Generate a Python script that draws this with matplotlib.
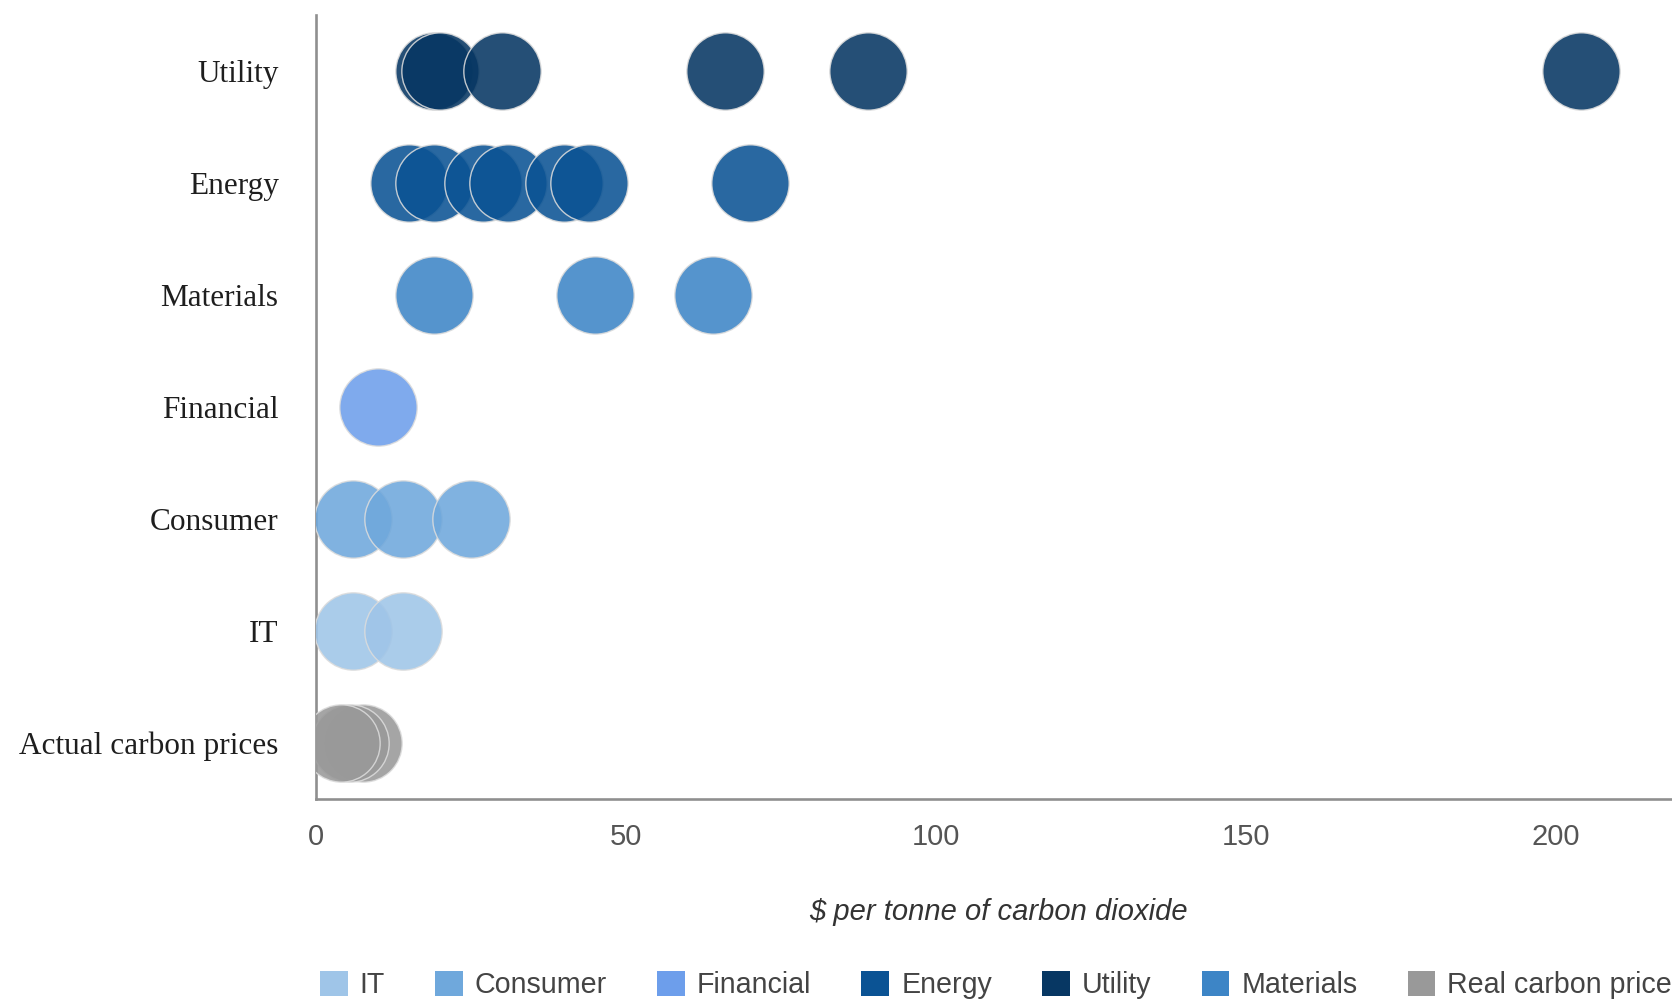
import matplotlib
matplotlib.use("Agg")
import matplotlib.pyplot as plt
from matplotlib.patches import Patch

# Sector rows, bottom to top
categories = ["Actual carbon prices", "IT", "Consumer", "Financial",
              "Materials", "Energy", "Utility"]

# Internal carbon prices, $ per tonne of CO2
it_prices = [6, 14]
consumer_prices = [6, 14, 25]
financial_prices = [10]
energy_prices = [15, 19, 27, 31, 40, 44, 70]
utility_prices = [19, 20, 30, 66, 89, 204]
materials_prices = [19, 45, 64]
real_carbon_prices = [7.5, 5.5, 4]

legend_names = ["IT", "Consumer", "Financial", "Energy", "Utility",
                "Materials", "Real carbon price"]
series_rows = ["IT", "Consumer", "Financial", "Energy", "Utility",
               "Materials", "Actual carbon prices"]
series_values = [it_prices, consumer_prices, financial_prices, energy_prices,
                 utility_prices, materials_prices, real_carbon_prices]
series_colors = ["#9fc5e8", "#6fa8dc", "#6d9eeb", "#0b5394", "#073763",
                 "#3d85c6", "#999999"]

W, H = 1672, 999
fig = plt.figure(figsize=(W / 100, H / 100), dpi=100)
ax = fig.add_axes([316 / W, 200 / H, 1364 / W, 784 / H])

for name, row, vals, col in zip(legend_names, series_rows, series_values, series_colors):
    ypos = categories.index(row)
    ax.scatter(vals, [ypos] * len(vals), s=3100, color=col, alpha=0.88,
               edgecolors="#dcdcdc", linewidths=1.0, zorder=3)

ax.set_xlim(0, 220)
ax.set_ylim(-0.5, 6.5)
ax.set_xticks([0, 50, 100, 150, 200])
ax.set_yticks(range(len(categories)))
ax.set_yticklabels(categories, fontfamily="Liberation Serif", fontsize=22.5,
                   color="#1e1e1e")
for lbl in ax.get_xticklabels():
    lbl.set_fontfamily("Liberation Sans")
ax.tick_params(axis="x", length=0, pad=17, labelsize=21, labelcolor="#555555")
ax.tick_params(axis="y", length=0, pad=27)

for side in ("top", "right"):
    ax.spines[side].set_visible(False)
for side in ("left", "bottom"):
    ax.spines[side].set_color("#8f8f8f")
    ax.spines[side].set_linewidth(1.9)

ax.set_xlabel("$ per tonne of carbon dioxide", fontfamily="Liberation Sans",
              fontstyle="italic", fontsize=21, color="#333333", labelpad=34)

handles = [Patch(facecolor=c, edgecolor="none", label=n)
           for n, c in zip(legend_names, series_colors)]
leg = fig.legend(handles=handles, loc="center left",
                 bbox_to_anchor=(320 / W, (H - 985) / H),
                 bbox_transform=fig.transFigure, ncol=7, frameon=False,
                 prop={"family": "Liberation Sans", "size": 20.6},
                 handlelength=0.97, handleheight=1.0, handletextpad=0.42,
                 columnspacing=1.75, borderpad=0, borderaxespad=0)
for t in leg.get_texts():
    t.set_color("#444444")

fig.savefig("out.png", dpi=100)
